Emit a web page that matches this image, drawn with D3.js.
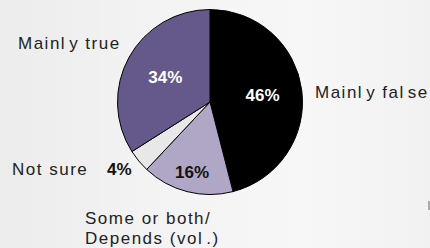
<!DOCTYPE html>
<html>
<head>
<meta charset="utf-8">
<script src="https://cdn.jsdelivr.net/npm/d3@7"></script>
<style>
  body { margin: 0; }
  svg { display: block; }
  .name { font-family: 'Liberation Sans', Arial, sans-serif; font-size: 17px; fill: #222; letter-spacing: 1.5px; }
  .pct { font-family: 'Liberation Sans', Arial, sans-serif; font-weight: bold; font-size: 17px; }
</style>
</head>
<body>
<svg width="430" height="248"></svg>
<script>
const categories = ['Mainly false', 'Some or both/ Depends (vol.)', 'Not sure', 'Mainly true'];
const values = [46, 16, 4, 34];
const pctLabels = ['46%', '16%', '4%', '34%'];

const svg = d3.select('svg');
const width = 430;
const height = 248;

// background
const defs = svg.append('defs');
const grad = defs.append('linearGradient').attr('id', 'bg');
grad.append('stop').attr('offset', '0%').attr('stop-color', '#ececec');
grad.append('stop').attr('offset', '35%').attr('stop-color', '#f3f3f3');
grad.append('stop').attr('offset', '70%').attr('stop-color', '#f7f7f7');
grad.append('stop').attr('offset', '100%').attr('stop-color', '#f1f1f1');
svg.append('rect').attr('width', width).attr('height', height).attr('fill', 'url(#bg)');
svg.append('rect').attr('x', 428).attr('y', 201).attr('width', 2).attr('height', 9).attr('fill', '#aaa');

const cx = 210, cy = 102, radius = 92.5;

const color = d3.scaleOrdinal()
    .domain(categories)
    .range(['#000000', '#b0a6c6', '#e8e8e8', '#65588a']);

const pie = d3.pie().sort(null).value((d, i) => values[i]);
const arcs = pie(categories);

const arc = d3.arc().innerRadius(0).outerRadius(radius);

const chart = svg.append('g')
    .attr('transform', `translate(${cx}, ${cy})`);

chart.selectAll('path')
    .data(arcs)
    .enter()
    .append('path')
    .attr('d', arc)
    .attr('fill', (d) => color(d.data))
    .attr('stroke', '#000')
    .attr('stroke-width', 1);

// percentage labels inside slices
const labelR = [53, 72, 0, 51];
const pctColor = ['#fff', '#111', '#111', '#fff'];
arcs.forEach((d, i) => {
    if (i === 2) return;
    const a = (d.startAngle + d.endAngle) / 2;
    chart.append('text')
        .attr('class', 'pct')
        .attr('x', labelR[i] * Math.sin(a))
        .attr('y', -labelR[i] * Math.cos(a) + 6)
        .attr('text-anchor', 'middle')
        .attr('fill', pctColor[i])
        .text(pctLabels[i]);
});

// small slice label outside
svg.append('text')
    .attr('class', 'pct')
    .attr('x', 107)
    .attr('y', 175)
    .attr('fill', '#111')
    .text(pctLabels[2]);

// category names (the source renders a small gap after each "l")
function name(x, y, parts) {
    const t = svg.append('text').attr('class', 'name').attr('x', x).attr('y', y);
    parts.forEach((p, i) => {
        t.append('tspan').attr('dx', i === 0 ? 0 : 3).text(p);
    });
}
name(18, 49, ['Mainl', 'y true']);
name(315, 98, ['Mainl', 'y fal', 'se']);
name(12, 175, ['Not sure']);
name(85, 224, ['Some or both/']);
name(85, 244, ['Depends (vol', '.)']);
</script>
</body>
</html>
